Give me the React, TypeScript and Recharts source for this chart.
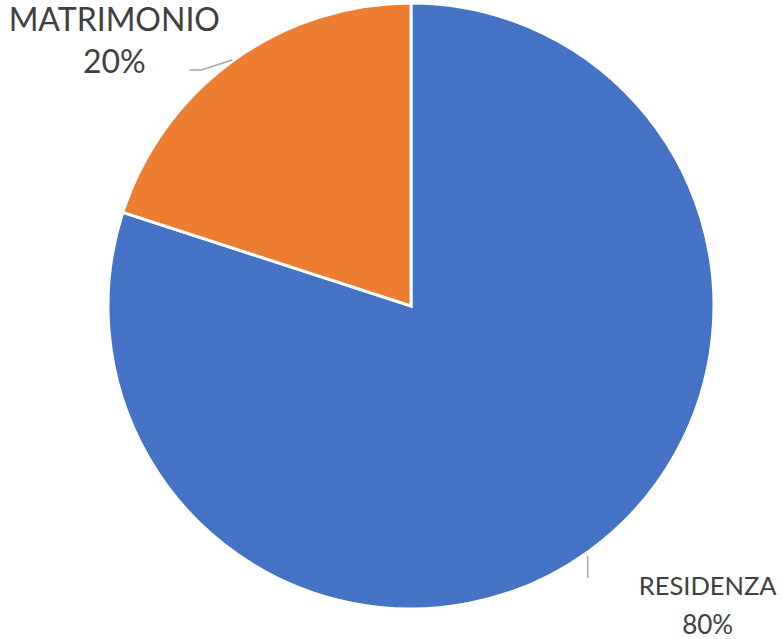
import { PieChart, Pie, Cell } from 'recharts'

const categories = ['RESIDENZA', 'MATRIMONIO']
const values = [80, 20]
const colors = ['#4472C4', '#ED7D31']

const data = categories.map((name, i) => ({ name, value: values[i] }))

const RADIAN = Math.PI / 180

const renderLabel = (props: any) => {
  const { cx, cy, midAngle, outerRadius, index, percent, name } = props
  const cos = Math.cos(-midAngle * RADIAN)
  const sin = Math.sin(-midAngle * RADIAN)
  const sx = cx + (outerRadius + 1) * cos
  const sy = cy + (outerRadius + 1) * sin
  const pct = `${Math.round(percent * 100)}%`
  if (index === 0) {
    // bottom right, vertical leader
    return (
      <g>
        <path d={`M${sx - 2},${sy + 4} L${sx - 2},${sy + 26}`} stroke="#A6A6A6" strokeWidth={1.5} fill="none" />
        <text x={sx + 118} y={sy + 43} textAnchor="middle" fill="#404040" fontSize={25.5} fontFamily="Lato, sans-serif">
          {name}
        </text>
        <text x={sx + 118} y={sy + 82} textAnchor="middle" fill="#404040" fontSize={26} fontFamily="Lato, sans-serif">
          {pct}
        </text>
      </g>
    )
  }
  return (
    <g>
      <path d={`M${sx},${sy} L${sx - 31},${sy + 10} L${sx - 43},${sy + 10}`} stroke="#A6A6A6" strokeWidth={1.5} fill="none" />
      <text x={sx - 118} y={sy - 29} textAnchor="middle" fill="#404040" fontSize={32} fontFamily="Lato, sans-serif">
        {name}
      </text>
      <text x={sx - 118} y={sy + 13} textAnchor="middle" fill="#404040" fontSize={32} fontFamily="Lato, sans-serif">
        {pct}
      </text>
    </g>
  )
}

export default function App() {
  return (
    <div style={{ position: 'absolute', left: 0, top: 0, width: 783, height: 639, background: '#fff' }}>
      <PieChart width={783} height={639} margin={{ top: 0, right: 0, bottom: 0, left: 0 }}>
        <Pie
          data={data}
          dataKey="value"
          nameKey="name"
          cx={411}
          cy={306}
          outerRadius={303}
          startAngle={90}
          endAngle={-270}
          stroke="#FFFFFF"
          strokeWidth={3}
          label={renderLabel}
          labelLine={false}
          isAnimationActive={false}
        >
          {data.map((d, i) => (
            <Cell key={d.name} fill={colors[i]} />
          ))}
        </Pie>
      </PieChart>
    </div>
  )
}
